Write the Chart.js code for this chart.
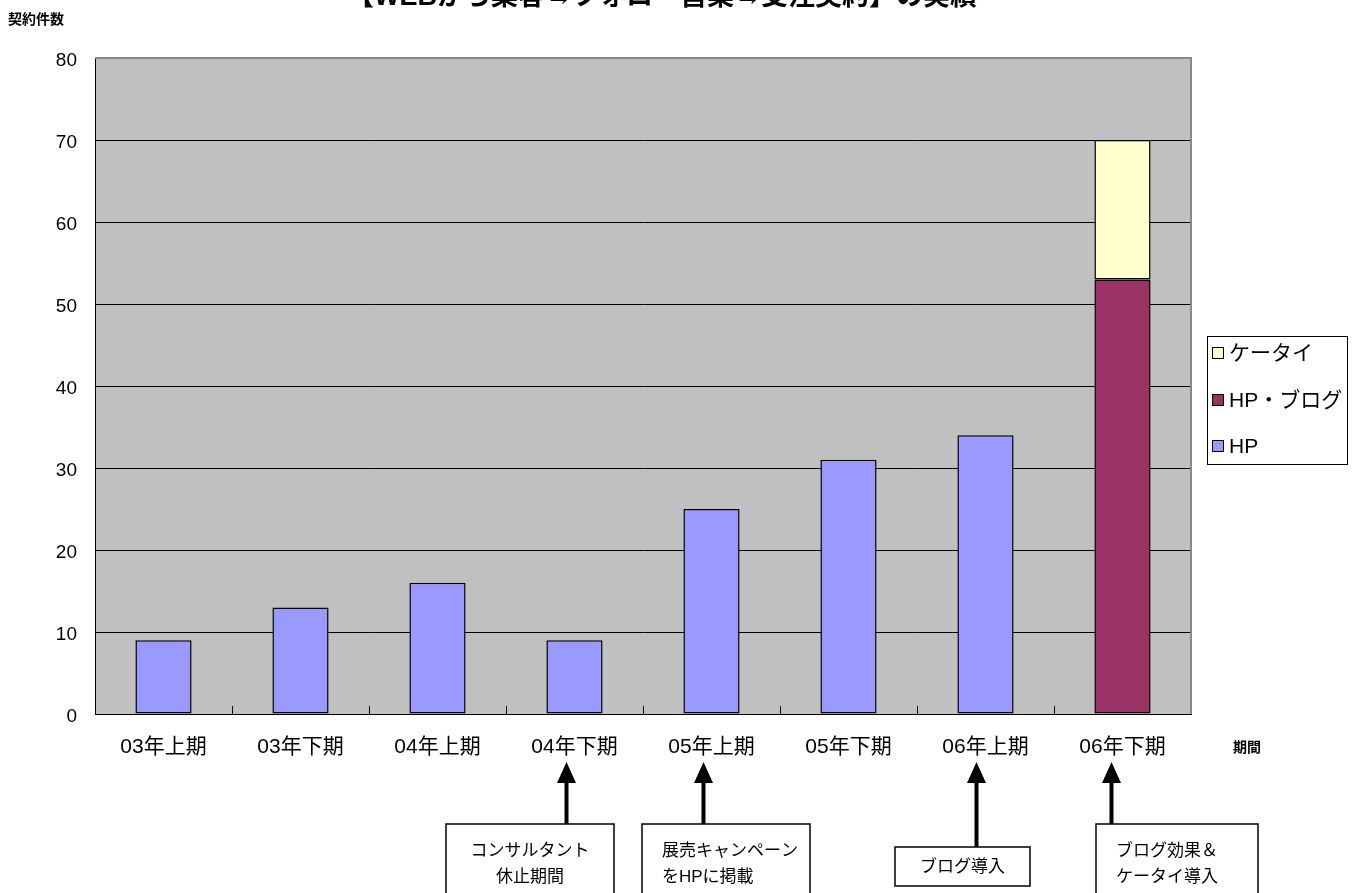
<!DOCTYPE html>
<html lang="ja">
<head>
<meta charset="utf-8">
<title>契約件数の推移</title>
<script src="https://cdn.jsdelivr.net/npm/chart.js@4.4.1/dist/chart.umd.min.js"></script>
<style>
  html, body { margin: 0; padding: 0; background: #ffffff; }
  #wrap { position: relative; width: 1361px; height: 893px; overflow: hidden; }
  canvas { display: block; }
</style>
</head>
<body>
<div id="wrap"><canvas id="chart" width="1361" height="893"></canvas></div>
<script>
// 半期ごとの契約件数
const periods = ['03年上期', '03年下期', '04年上期', '04年下期', '05年上期', '05年下期', '06年上期', '06年下期'];
const hpCounts = [9, 13, 16, 9, 25, 31, 34, null];
const hpBlogCounts = [null, null, null, null, null, null, null, 53];
const mobileCounts = [null, null, null, null, null, null, null, 17];
const yTicks = [0, 10, 20, 30, 40, 50, 60, 70, 80];

// 施策の注記（対象の期とテキスト）
const noteTargets = [3, 4, 6, 7];
const noteTexts = [
  ['コンサルタント', '休止期間'],
  ['展売キャンペーン', 'をHPに掲載'],
  ['ブログ導入'],
  ['ブログ効果＆', 'ケータイ導入']
];

const titleText = '【WEBから集客→フォロー営業→受注契約】の実績';
const JP = '"Liberation Sans", "Noto Sans CJK JP", "Noto Sans", sans-serif';

const seriesStyle = [
  { label: 'HP', data: hpCounts, color: '#9999FF' },
  { label: 'HP・ブログ', data: hpBlogCounts, color: '#993366' },
  { label: 'ケータイ', data: mobileCounts, color: '#FFFFCC' }
];

const plotBackground = {
  id: 'plotBackground',
  beforeDraw(chart) {
    const { ctx, chartArea: a } = chart;
    ctx.save();
    ctx.fillStyle = '#C0C0C0';
    ctx.fillRect(a.left, a.top, a.right - a.left, a.bottom - a.top);
    ctx.restore();
  }
};

const overlay = {
  id: 'overlay',
  afterDraw(chart) {
    const { ctx, chartArea: a } = chart;
    const x = chart.scales.x;
    ctx.save();

    // 上辺・右辺の枠
    ctx.strokeStyle = '#888888';
    ctx.lineWidth = 2;
    ctx.beginPath();
    ctx.moveTo(a.left, a.top);
    ctx.lineTo(a.right, a.top);
    ctx.lineTo(a.right, a.bottom);
    ctx.stroke();

    // 期の区切り目盛り
    ctx.strokeStyle = '#000000';
    ctx.lineWidth = 1;
    const half = (x.getPixelForValue(1) - x.getPixelForValue(0)) / 2;
    for (let i = 1; i < periods.length; i++) {
      const px = Math.round(x.getPixelForValue(i) - half) + 0.5;
      ctx.beginPath();
      ctx.moveTo(px, a.bottom);
      ctx.lineTo(px, a.bottom - 8);
      ctx.stroke();
    }

    // タイトル
    ctx.fillStyle = '#000000';
    ctx.font = 'bold 27px ' + JP;
    ctx.textAlign = 'center';
    ctx.textBaseline = 'alphabetic';
    ctx.fillText(titleText, 662, 5);

    // 軸タイトル
    ctx.font = 'bold 14px ' + JP;
    ctx.textAlign = 'left';
    ctx.textBaseline = 'middle';
    ctx.fillText('契約件数', 8, 20);
    ctx.fillText('期間', 1233, 748);

    // 凡例
    ctx.lineWidth = 1;
    ctx.strokeStyle = '#000000';
    ctx.fillStyle = '#ffffff';
    ctx.fillRect(1207.5, 336.5, 140, 128);
    ctx.strokeRect(1207.5, 336.5, 140, 128);
    const legendRows = [seriesStyle[2], seriesStyle[1], seriesStyle[0]];
    const legendY = [353, 400, 446];
    ctx.font = '21px ' + JP;
    legendRows.forEach((s, i) => {
      const y = legendY[i];
      ctx.fillStyle = s.color;
      ctx.fillRect(1212.5, y - 5.5, 11, 11);
      ctx.strokeRect(1212.5, y - 5.5, 11, 11);
      ctx.fillStyle = '#000000';
      ctx.fillText(s.label, 1229, y + 1);
    });

    // 注記の矢印と枠
    const boxes = [
      { left: 446, right: 614, top: 824, bottom: 900, align: 'center', shift: -8 },
      { left: 642, right: 810, top: 824, bottom: 900, align: 'left', shift: -8 },
      { left: 895, right: 1030, top: 847, bottom: 886, align: 'center', shift: -9 },
      { left: 1096, right: 1258, top: 824, bottom: 900, align: 'left', shift: -11 }
    ];
    noteTargets.forEach((idx, n) => {
      const b = boxes[n];
      const ax = x.getPixelForValue(idx) + b.shift;
      ctx.fillStyle = '#000000';
      ctx.strokeStyle = '#000000';
      // 矢印
      ctx.lineWidth = 4;
      ctx.beginPath();
      ctx.moveTo(ax, b.top);
      ctx.lineTo(ax, 780);
      ctx.stroke();
      ctx.beginPath();
      ctx.moveTo(ax, 762);
      ctx.lineTo(ax - 9.5, 783);
      ctx.lineTo(ax + 9.5, 783);
      ctx.closePath();
      ctx.fill();
      // 枠
      ctx.lineWidth = 1.5;
      ctx.fillStyle = '#ffffff';
      ctx.fillRect(b.left, b.top, b.right - b.left, b.bottom - b.top);
      ctx.strokeRect(b.left, b.top, b.right - b.left, b.bottom - b.top);
      // テキスト
      ctx.fillStyle = '#000000';
      ctx.font = '17px ' + JP;
      ctx.textBaseline = 'middle';
      const lines = noteTexts[n];
      lines.forEach((t, k) => {
        const ty = lines.length === 1 ? (b.top + b.bottom) / 2 + 1 : b.top + 27 + k * 26;
        if (b.align === 'center') {
          ctx.textAlign = 'center';
          ctx.fillText(t, (b.left + b.right) / 2, ty);
        } else {
          ctx.textAlign = 'left';
          ctx.fillText(t, b.left + 20, ty);
        }
      });
    });
    ctx.restore();
  }
};

new Chart(document.getElementById('chart'), {
  type: 'bar',
  data: {
    labels: periods,
    datasets: seriesStyle.map(s => ({
      label: s.label,
      data: s.data,
      backgroundColor: s.color,
      borderColor: '#000000',
      borderWidth: 1.5,
      borderSkipped: false,
      categoryPercentage: 1,
      barPercentage: 0.41,
      stack: 'total'
    }))
  },
  options: {
    responsive: false,
    animation: false,
    devicePixelRatio: 1,
    layout: { padding: { top: 58, right: 170, left: 0, bottom: 0 } },
    plugins: {
      legend: { display: false },
      title: { display: false },
      tooltip: { enabled: false }
    },
    scales: {
      x: {
        stacked: true,
        grid: { display: false, drawTicks: false },
        border: { display: true, color: '#000000', width: 1 },
        ticks: {
          color: '#000000',
          font: { family: JP, size: 21 },
          padding: 21,
          maxRotation: 0
        },
        afterFit(scale) { scale.height = 179; }
      },
      y: {
        stacked: true,
        min: 0,
        max: 80,
        afterBuildTicks(scale) { scale.ticks = yTicks.map(v => ({ value: v })); },
        grid: {
          drawTicks: false,
          color: ctx => (ctx.tick && (ctx.tick.value === 80 || ctx.tick.value === 0)) ? 'rgba(0,0,0,0)' : '#000000',
          lineWidth: 1
        },
        border: { display: true, color: '#000000', width: 1 },
        ticks: {
          color: '#000000',
          font: { family: JP, size: 19 },
          padding: 18,
          labelOffset: 3
        },
        afterFit(scale) { scale.width = 95; }
      }
    }
  },
  plugins: [plotBackground, overlay]
});
</script>
</body>
</html>
